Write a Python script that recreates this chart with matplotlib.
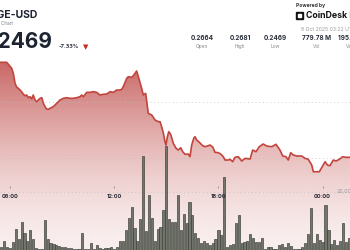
import numpy as np
import matplotlib.pyplot as plt
from matplotlib.colors import to_rgb
from matplotlib.patches import Polygon, Rectangle
from matplotlib.transforms import blended_transform_factory

plt.rcParams['font.family'] = ['Inter', 'DejaVu Sans']

# price trace: hour of day (24+ is the next day) and price in USD
hours = [
    5.42, 5.81, 6.10, 6.19, 6.29, 6.39, 6.48, 6.58, 6.67, 6.77,
    6.86, 6.96, 7.05, 7.15, 7.25, 7.34, 7.44, 7.54, 7.63, 7.73,
    7.83, 7.92, 8.02, 8.11, 8.21, 8.30, 8.49, 8.69, 8.88, 9.07,
    9.26, 9.45, 9.64, 9.84, 10.03, 10.13, 10.22, 10.42, 10.61, 10.80,
    10.99, 11.18, 11.37, 11.57, 11.76, 11.95, 12.14, 12.33, 12.43, 12.52,
    12.72, 12.81, 13.01, 13.10, 13.29, 13.39, 13.58, 13.67, 13.81, 13.96,
    14.16, 14.35, 14.54, 14.64, 14.73, 14.83, 14.92, 14.98, 15.06, 15.14,
    15.25, 15.40, 15.56, 15.69, 15.83, 15.94, 16.08, 16.26, 16.36, 16.46,
    16.59, 16.65, 16.75, 16.90, 17.09, 17.23, 17.42, 17.51, 17.67, 17.80,
    17.99, 18.13, 18.28, 18.38, 18.57, 18.67, 18.82, 18.95, 19.14, 19.34,
    19.53, 19.82, 19.97, 20.16, 20.35, 20.58, 20.78, 21.07, 21.31, 21.54,
    21.70, 21.89, 22.02, 22.16, 22.31, 22.51, 22.79, 22.98, 23.17, 23.37,
    23.46, 23.66, 23.81, 24.00, 24.14, 24.27, 24.42, 24.61, 24.77, 24.96,
    25.15, 25.34, 25.57,
]
price = [
    0.26709, 0.26709, 0.26602, 0.26513, 0.26334, 0.26263, 0.26245, 0.26214, 0.26184, 0.26138,
    0.26113, 0.26125, 0.26077, 0.26095, 0.26054, 0.26125, 0.26036, 0.26005, 0.26036, 0.26066,
    0.26077, 0.25977, 0.25916, 0.25875, 0.25870, 0.25887, 0.25916, 0.25977, 0.26036, 0.26066,
    0.26077, 0.26066, 0.26066, 0.26077, 0.26095, 0.26125, 0.26095, 0.26173, 0.26173, 0.26184,
    0.26173, 0.26125, 0.26138, 0.26143, 0.26184, 0.26173, 0.26214, 0.26214, 0.26227, 0.26273,
    0.26423, 0.26452, 0.26441, 0.26470, 0.26554, 0.26452, 0.26245, 0.26125, 0.26155, 0.25798,
    0.25768, 0.25679, 0.25648, 0.25648, 0.25559, 0.25441, 0.25291, 0.25232, 0.25380, 0.25470,
    0.25423, 0.25262, 0.25173, 0.25143, 0.25184, 0.25112, 0.25066, 0.25071, 0.25023, 0.25232,
    0.25362, 0.25380, 0.25321, 0.25280, 0.25220, 0.25202, 0.25220, 0.25232, 0.25196, 0.25102,
    0.25095, 0.25071, 0.25023, 0.24964, 0.24964, 0.24977, 0.24934, 0.25012, 0.25023, 0.24946,
    0.24994, 0.24982, 0.25143, 0.25112, 0.25202, 0.25250, 0.25214, 0.25202, 0.25245, 0.25143,
    0.25036, 0.25023, 0.24964, 0.25095, 0.25053, 0.25036, 0.25036, 0.24994, 0.24977, 0.24875,
    0.24755, 0.24755, 0.24755, 0.24857, 0.24934, 0.24875, 0.24862, 0.24964, 0.24946, 0.24977,
    0.25023, 0.25012, 0.25012,
]

# 10-minute volume bars from 05:30, in millions
vol_start = 5.5
volume = [
    1.1, 3.2, 1.1, 0.6, 2.9, 7.2, 3.7, 9.6, 5.8, 3.2,
    6.9, 3.7, 0.6, 0.35, 0.35, 10.4, 3.7, 2.5, 2.1, 1.7,
    1.4, 0.9, 1.1, 0.6, 0.6, 0.35, 0.35, 0.35, 6.0, 0.45,
    0.45, 2.3, 0.35, 1.6, 0.7, 0.45, 0.7, 0.7, 0.9, 0.35,
    1.1, 3.2, 3.2, 6.9, 10.9, 14.9, 7.5, 3.2, 10.6, 32.4,
    6.7, 19.0, 10.9, 3.2, 7.1, 8.0, 13.8, 35.9, 10.6, 9.8,
    9.7, 19.0, 6.9, 12.4, 9.4, 16.7, 12.1, 5.8, 4.0, 2.3,
    3.2, 2.5, 1.7, 2.3, 3.7, 6.9, 5.2, 25.3, 1.1, 1.7,
    2.2, 9.2, 12.1, 2.5, 2.9, 3.1, 5.4, 4.2, 2.9, 2.9,
    4.0, 0.45, 0.9, 0.9, 0.45, 0.35, 1.7, 2.1, 1.1, 2.5,
    1.4, 0.45, 0.35, 0.45, 0.9, 2.5, 5.5, 14.4, 2.5, 5.5,
    3.5, 2.9, 15.5, 6.9, 2.1, 3.5, 1.7, 3.2, 9.2, 2.9, 4.0,
]

tick_hours = [6, 12, 18, 24]
tick_labels = ['06:00', '12:00', '18:00', '00:00']
price_grid = [0.260, 0.250]
vol_grid = 20

stat_values = ['0.2664', '0.2681', '0.2469', '779.78 M', '195.62 M']
stat_names = ['Open', 'High', 'Low', 'Vol', 'Value']
stat_x = [202, 240, 275, 317, 352]

W, H = 350, 250
dark = '#1d2431'
red = '#c0504d'


def fx(x):
    return x / W


def fy(y):
    return 1 - y / H


fig = plt.figure(figsize=(3.5, 2.5), dpi=100)
ax = fig.add_axes([0, 0, 1, 1])
ax.set_xlim(5.424, 25.573)
ax.set_ylim(0.23357, 0.27822)
ax.axis('off')

# vertical red gradient under the price line
py = np.arange(H) + 0.5
alpha = 0.1 + 0.72 * np.clip((245 - py) / 175, 0, None) ** 1.5
grad = np.zeros((H, 1, 4))
grad[..., :3] = to_rgb(red)
grad[:, 0, 3] = np.clip(alpha, 0, 0.9)
x0, x1 = ax.get_xlim()
y0, y1 = ax.get_ylim()
im = ax.imshow(grad, extent=[x0, x1, y0, y1], aspect='auto', origin='upper',
               interpolation='bilinear', zorder=1)
verts = [(hours[0], y0)] + list(zip(hours, price)) + [(hours[-1], y0)]
im.set_clip_path(Polygon(verts, closed=True, transform=ax.transData))
ax.set_xlim(x0, x1)
ax.set_ylim(y0, y1)

for p in price_grid:
    ax.axhline(p, color='#bdbdbd', lw=0.6, ls=(0, (1, 3.5)), zorder=2)

axv = ax.twinx()
axv.axis('off')
axv.axhline(vol_grid, color='#bdbdbd', lw=0.6, ls=(0, (1, 3.5)), zorder=1)
bar_x = vol_start + np.arange(len(volume)) / 6
axv.bar(bar_x, volume, width=0.125, color='#72756b', edgecolor='#3a3c36',
        linewidth=0.45, zorder=2)
axv.plot(hours, price, transform=ax.transData, color='#c2453d', lw=1.2,
         solid_joinstyle='round', zorder=3)
axv.set_xlim(x0, x1)
axv.set_ylim(0, 86.25)

tr = blended_transform_factory(ax.transData, fig.transFigure)
axv.plot(tick_hours, [fy(187)] * len(tick_hours), transform=tr, ls='none',
         marker='|', ms=1.6, mew=0.5, color='#777777', zorder=4)
for h, lab in zip(tick_hours, tick_labels):
    axv.text(h, fy(197), lab, transform=tr, ha='center', va='center',
             fontsize=4, weight='bold', color='#2c3038', zorder=5)
fig.text(fx(337), fy(192), '20,000,000', ha='left', va='center',
         fontsize=3.8, color='#9a9a9a')

# header
fig.text(fx(38), fy(18), 'DOGE-USD', ha='right', va='baseline',
         fontsize=7.5, weight='bold', color=dark)
fig.text(fx(13), fy(23.5), 'Tracker Chart', ha='right', va='center',
         fontsize=3.3, color='#7a7f87')
fig.text(fx(52), fy(47.5), '$0.2469', ha='right', va='baseline',
         fontsize=15, weight='bold', color=dark)
fig.text(fx(59), fy(47), '-7.33%', ha='left', va='center',
         fontsize=4, weight='bold', color='#2b2f36')
fig.text(fx(86), fy(47.5), '\u25bc', ha='center', va='center',
         fontsize=5, color='#c62a22', family=['DejaVu Sans'])

fig.text(fx(296), fy(5), 'Powered by', ha='left', va='center',
         fontsize=3.6, weight='bold', color='#333333')
fig.add_artist(Rectangle((fx(296), fy(19.3)), fx(7.3), 7 / H,
                         transform=fig.transFigure, color='#111111'))
fig.add_artist(Rectangle((fx(298.3), fy(17.3)), fx(3), 3 / H,
                         transform=fig.transFigure, color='white'))
fig.text(fx(305.5), fy(16), 'CoinDesk Data', ha='left', va='center',
         fontsize=6.3, weight='bold', color='#111111')
fig.text(fx(301), fy(29.5), '8 Oct 2025 03:22 UTC', ha='left', va='center',
         fontsize=3.7, color='#9a9a9a')

for x, v, n in zip(stat_x, stat_values, stat_names):
    fig.text(fx(x), fy(38.5), v, ha='center', va='center',
             fontsize=4.6, weight='bold', color='#2a2f3a')
    fig.text(fx(x), fy(46.5), n, ha='center', va='center',
             fontsize=3.5, color='#8a8a8a')

fig.savefig('out.png', dpi=100)
